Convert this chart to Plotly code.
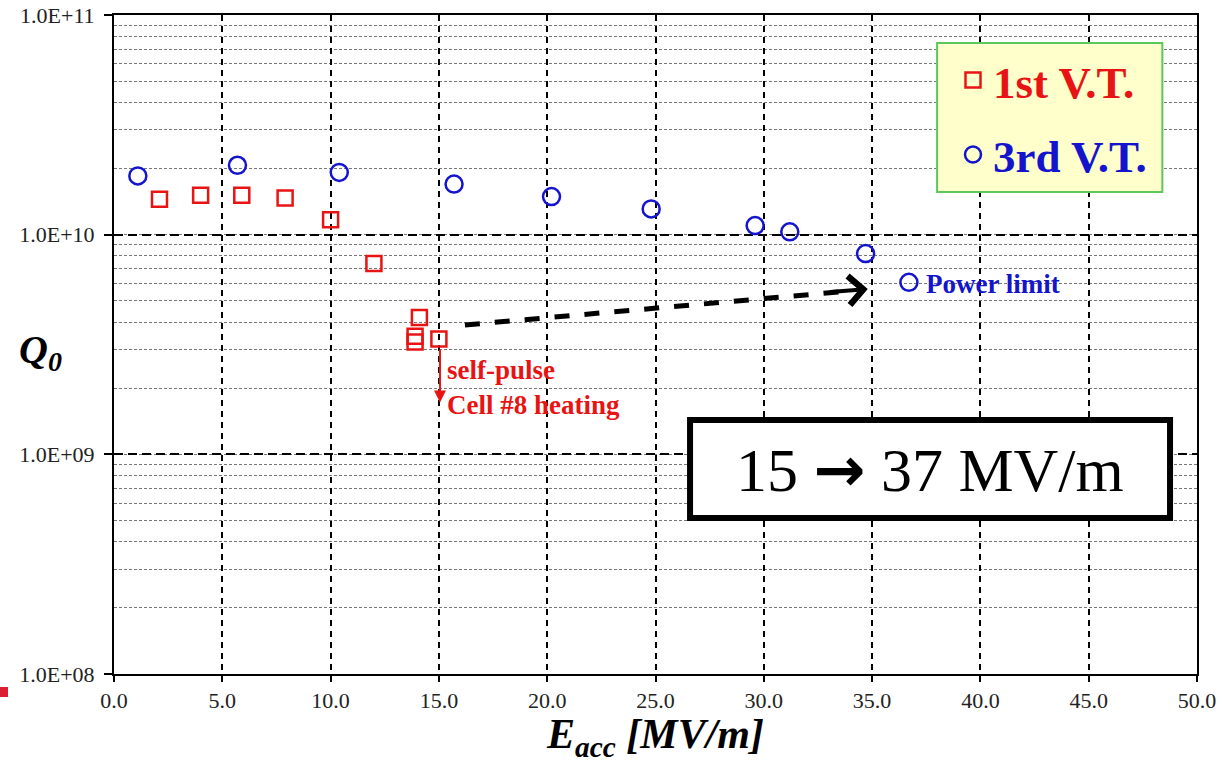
import math
import plotly.graph_objects as go

# ---------------- data ----------------
e_1st = [2.1, 4.0, 5.9, 7.9, 10.0, 12.0, 14.1, 13.9, 13.9, 15.0]
q_1st = [1.45e10, 1.51e10, 1.51e10, 1.47e10, 1.17e10, 7.4e9, 4.2e9, 3.45e9, 3.25e9, 3.35e9]

e_3rd = [1.1, 5.7, 10.4, 15.7, 20.2, 24.8, 29.6, 31.2, 34.7, 36.7]
q_3rd = [1.85e10, 2.07e10, 1.92e10, 1.70e10, 1.49e10, 1.31e10, 1.10e10, 1.03e10, 8.2e9, 6.07e9]

y_tickvals = [1e8, 1e9, 1e10, 1e11]
y_ticktext = ["1.0E+08", "1.0E+09", "1.0E+10", "1.0E+11"]

RED = "#E81414"
BLUE = "#1414CC"
SERIF = "Liberation Serif"

fig = go.Figure()
fig.add_trace(go.Scatter(
    x=e_1st, y=q_1st, mode="markers", legendgroup="a",
    name=f"<b><span style='color:{RED}'>1st V.T.</span></b>",
    marker=dict(symbol="square-open", size=15, color=RED, line=dict(width=2.5, color=RED)),
))
fig.add_trace(go.Scatter(
    x=e_3rd, y=q_3rd, mode="markers", legendgroup="b",
    name=f"<b><span style='color:{BLUE}'>3rd V.T.</span></b>",
    marker=dict(symbol="circle-open", size=17, color=BLUE, line=dict(width=2.5, color=BLUE)),
))

shapes = []
# legend background box
shapes.append(dict(type="rect", xref="paper", yref="paper", x0=0.760, x1=0.968, y0=0.7314, y1=0.9575,
                   fillcolor="#FFFFCC", line=dict(color="#5CC85C", width=2), layer="above"))
# "15 -> 37 MV/m" box
shapes.append(dict(type="rect", xref="paper", yref="paper", x0=0.5319, x1=0.9751, y0=0.2367, y1=0.3854,
                   fillcolor="white", line=dict(color="black", width=6), layer="above"))
# dashed improvement arrow body
shapes.append(dict(type="line", xref="x", yref="y", x0=16.2, y0=3.88e9, x1=33.6, y1=5.5e9,
                   line=dict(color="black", width=5, dash="dash"), layer="above"))
# slide decoration
shapes.append(dict(type="rect", xref="paper", yref="paper", x0=-0.1053, x1=-0.0979, y0=-0.0349, y1=-0.0197,
                   fillcolor="#DC1E32", line=dict(width=0), layer="above"))

annotations = []
# arrowhead of dashed arrow
annotations.append(dict(
    x=34.8, y=math.log10(5.66e9), ax=33.0, ay=math.log10(5.47e9), xref="x", yref="y",
    axref="x", ayref="y", text="", showarrow=True, arrowhead=4, arrowwidth=4, arrowsize=1.4,
    arrowcolor="black"))
# red arrow (self-pulse)
annotations.append(dict(
    x=15.05, y=math.log10(1.72e9), ax=15.05, ay=math.log10(3.05e9), xref="x", yref="y",
    axref="x", ayref="y", text="", showarrow=True, arrowhead=2, arrowwidth=2, arrowsize=1.2,
    arrowcolor=RED))
annotations.append(dict(
    x=15.3, y=9.302, xref="x", yref="y", xanchor="left", yanchor="middle", align="left",
    text="<b>self-pulse<br>Cell #8 heating</b>", showarrow=False,
    font=dict(family=SERIF, size=27, color=RED)))
annotations.append(dict(
    x=37.4, y=9.776, xref="x", yref="y", xanchor="left", yanchor="middle",
    text="<b>Power limit</b>", showarrow=False,
    font=dict(family=SERIF, size=27, color=BLUE)))
annotations.append(dict(
    xref="paper", yref="paper", x=0.7535, y=0.311, xanchor="center", yanchor="middle",
    text="15 <span style='font-family:DejaVu Sans'><b>\u2192</b></span> 37 MV/m", showarrow=False,
    font=dict(family=SERIF, size=62, color="black")))
# y axis title (horizontal)
annotations.append(dict(
    xref="paper", yref="paper", x=-0.068, y=0.489, xanchor="center", yanchor="middle",
    text="<b><i>Q<sub>0</sub></i></b>", showarrow=False,
    font=dict(family=SERIF, size=40, color="black")))

fig.update_layout(
    width=1223, height=763,
    margin=dict(l=114, r=26, t=15, b=89, autoexpand=False),
    plot_bgcolor="white", paper_bgcolor="white",
    shapes=shapes, annotations=annotations,
    showlegend=True,
    legend=dict(x=0.7747, y=0.9556, xanchor="left", yanchor="top",
                bgcolor="rgba(0,0,0,0)", borderwidth=0, tracegroupgap=13,
                font=dict(family=SERIF, size=45, color="black")),
    xaxis=dict(
        range=[0, 50], dtick=5, tickformat=".1f",
        showline=True, mirror=True, linecolor="black", linewidth=2,
        ticks="outside", ticklen=6, tickwidth=2, tickcolor="black",
        showgrid=True, gridcolor="black", gridwidth=1.5, griddash="6px,5px",
        zeroline=False,
        tickfont=dict(family=SERIF, size=22, color="#222"),
        title=dict(text="<b><i>E<sub>acc</sub> [MV/m]</i></b>", standoff=6,
                   font=dict(family=SERIF, size=42, color="black")),
    ),
    yaxis=dict(
        type="log", range=[8, 11],
        tickmode="array", tickvals=y_tickvals, ticktext=y_ticktext,
        showline=True, mirror=True, linecolor="black", linewidth=2,
        ticks="outside", ticklen=8, tickwidth=2, tickcolor="black",
        ticklabelstandoff=5,
        showgrid=True, gridcolor="black", gridwidth=2, griddash="9px,5px",
        zeroline=False,
        tickfont=dict(family=SERIF, size=22, color="#222"),
        minor=dict(dtick="D1", showgrid=True, gridcolor="#777", gridwidth=1,
                   griddash="3px,2px", ticks=""),
    ),
)

fig.write_html("out.html")
